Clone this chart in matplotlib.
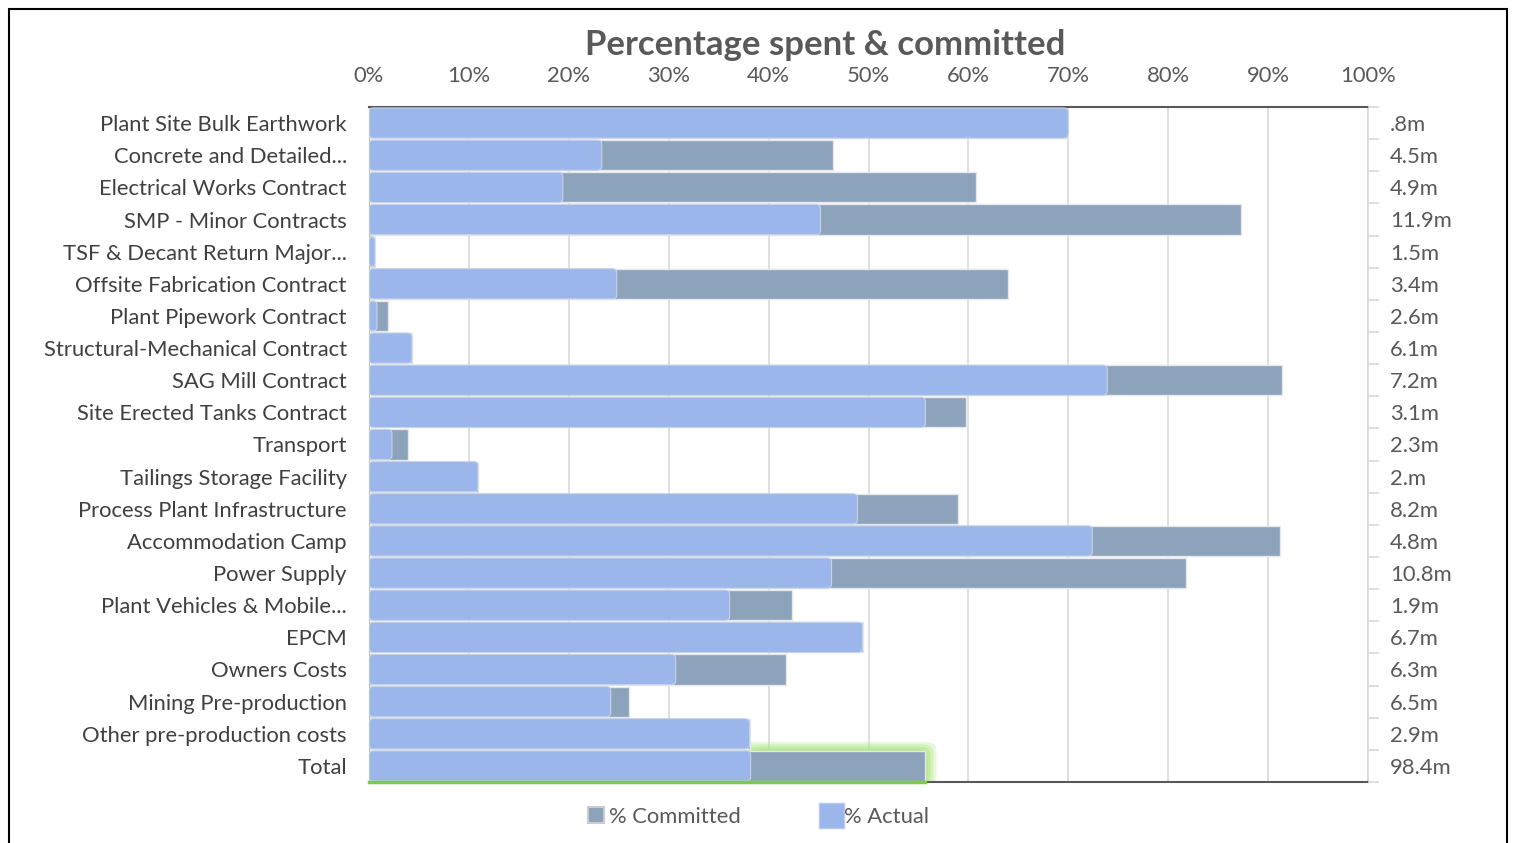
import matplotlib
matplotlib.use("Agg")
import matplotlib.pyplot as plt
from matplotlib.patches import Rectangle, FancyBboxPatch
from matplotlib.lines import Line2D

plt.rcParams['font.family'] = ['Lato', 'DejaVu Sans']

# data (percent of budget)
categories = ["Plant Site Bulk Earthwork", "Concrete and Detailed...", "Electrical Works Contract",
              "SMP - Minor Contracts", "TSF & Decant Return Major...", "Offsite Fabrication Contract",
              "Plant Pipework Contract", "Structural-Mechanical Contract", "SAG Mill Contract",
              "Site Erected Tanks Contract", "Transport", "Tailings Storage Facility",
              "Process Plant Infrastructure", "Accommodation Camp", "Power Supply",
              "Plant Vehicles & Mobile...", "EPCM", "Owners Costs", "Mining Pre-production",
              "Other pre-production costs", "Total"]
pct_actual = [70.0, 23.3, 19.4, 45.2, 0.6, 24.8, 0.8, 4.3, 73.9, 55.7, 2.3, 10.9,
              48.9, 72.4, 46.3, 36.1, 49.4, 30.7, 24.2, 38.1, 38.2]
pct_committed = [70.0, 46.4, 60.8, 87.3, 0.6, 64.0, 1.9, 4.3, 91.4, 59.8, 3.9, 10.9,
                 59.0, 91.2, 81.8, 42.3, 49.4, 41.7, 26.0, 38.1, 55.7]
budget_labels = [".8m", "4.5m", "4.9m", "11.9m", "1.5m", "3.4m", "2.6m", "6.1m", "7.2m",
                 "3.1m", "2.3m", "2.m", "8.2m", "4.8m", "10.8m", "1.9m", "6.7m", "6.3m",
                 "6.5m", "2.9m", "98.4m"]

c_actual = "#9AB6EB"
c_comm = "#8DA2BB"
txt = "#595959"
fs = 15.8

fig = plt.figure(figsize=(15.13, 8.43), dpi=100)
fig.patches.append(Rectangle((9 / 1513, -0.01), 1498 / 1513, 1 - 9 / 843 + 0.01,
                             transform=fig.transFigure, fill=False, ec="black", lw=1.5))

ax = fig.add_axes([369 / 1513, 1 - 782 / 843, 999 / 1513, 675 / 843])
y = list(range(len(categories)))
n = len(categories)
ti = n - 1

# green glow round the Total committed bar
for pad, a in [(1.1, 0.3), (0.8, 0.4), (0.5, 0.55), (0.25, 0.7)]:
    ax.add_patch(FancyBboxPatch((pct_actual[ti], ti - 0.47), pct_committed[ti] - pct_actual[ti], 0.94,
                                boxstyle="round,pad=%s,rounding_size=1.0" % pad, mutation_aspect=0.25,
                                fc="#B4E88C", ec="none", alpha=a, zorder=1))

ax.barh(y, pct_committed, height=0.94, color=c_comm, edgecolor="#E4E8EE", lw=1, zorder=2)
bars = ax.barh(y, pct_actual, height=0.94, color=c_actual, edgecolor="#E4E8EE", lw=1, zorder=3)
# rounded ends on the actual bars
for r in bars:
    r.set_visible(False)
    ax.add_patch(FancyBboxPatch((r.get_x(), r.get_y()), r.get_width(), r.get_height(),
                                boxstyle="round,pad=0,rounding_size=0.45", mutation_aspect=0.3,
                                fc=c_actual, ec="#C9D3E6", lw=0.8, zorder=3))

ax.set_xlim(0, 100)
ax.set_ylim(n - 0.5, -0.5)
ax.set_xticks(range(0, 101, 10))
ax.set_xticklabels(["%d%%" % v for v in range(0, 101, 10)])
ax.xaxis.tick_top()
ax.tick_params(axis="x", length=0, pad=15, labelsize=fs, labelcolor=txt)
ax.grid(axis="x", color="#D9D9D9", lw=1.2, zorder=0)
ax.set_axisbelow(True)

ax.set_yticks(y)
ax.set_yticklabels(categories)
ax.tick_params(axis="y", length=0, pad=16, labelsize=fs, labelcolor="#404040")

for s in ["top", "bottom"]:
    ax.spines[s].set_color("#595959")
    ax.spines[s].set_linewidth(1.5)
ax.spines["left"].set_color("#BFBFBF")
ax.spines["right"].set_color("#D9D9D9")
ax.spines["right"].set_linewidth(1.2)
ax.plot([0, pct_committed[ti]], [n - 0.5] * 2, color="#7CCB4A", lw=2.5,
        clip_on=False, zorder=5)

ax2 = ax.twinx()
ax2.set_ylim(ax.get_ylim())
ax2.set_yticks(y)
ax2.set_yticklabels(budget_labels)
ax2.set_yticks([i + 0.5 for i in range(-1, n)], minor=True)
ax2.tick_params(axis="y", which="major", length=0, pad=16, labelsize=fs, labelcolor=txt)
ax2.tick_params(axis="y", which="minor", length=8, width=1.2, color="#D9D9D9")
for s in ax2.spines.values():
    s.set_visible(False)

fig.text(825 / 1513, 1 - 45 / 843, "Percentage spent & committed", ha="center", va="center",
         fontsize=25, fontweight="bold", color=txt)

handles = [Line2D([], [], ls="none", marker="s", ms=11, mfc=c_comm, mec="#C8CDD4", mew=1.5),
           Line2D([], [], ls="none", marker="s", ms=18, mfc=c_actual, mec="#B8C9EE", mew=1)]
leg = fig.legend(handles, ["% Committed", "% Actual"], loc="center", ncol=2,
                 bbox_to_anchor=(757 / 1513, 1 - 817 / 843), frameon=False,
                 fontsize=fs, handletextpad=0.1, columnspacing=3.6, handlelength=1.0)
for t in leg.get_texts():
    t.set_color(txt)

fig.savefig("out.png", dpi=100)
